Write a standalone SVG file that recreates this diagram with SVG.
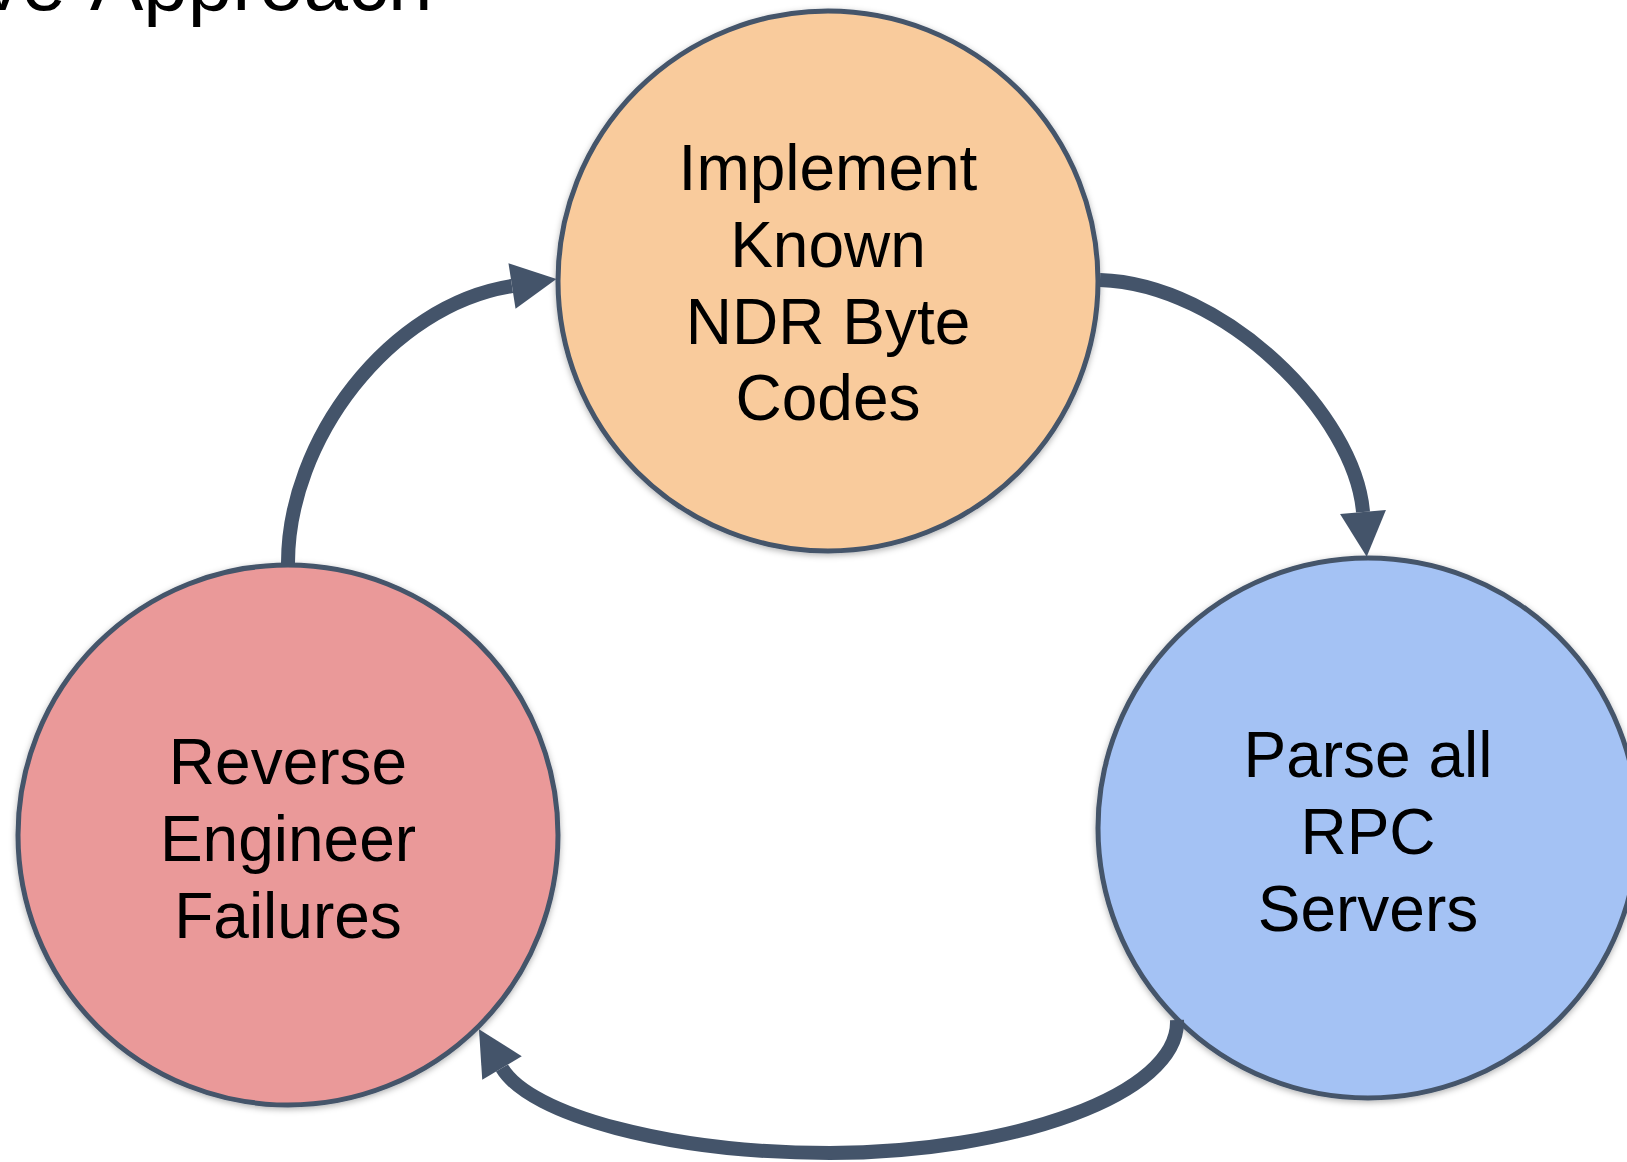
<svg xmlns="http://www.w3.org/2000/svg" width="1627" height="1162" viewBox="0 0 1627 1162">
  <style>
    .node circle { stroke: #44546A; stroke-width: 5; filter: url(#soft); }
    .label { font-family: "Liberation Sans", Arial, sans-serif; font-size: 64px; fill: #000000; text-anchor: middle; }
    .title { font-family: "Liberation Sans", Arial, sans-serif; font-size: 80px; fill: #000000; }
    .link { fill: none; stroke: #44546A; stroke-width: 14; marker-end: url(#head); }
  </style>
  <defs>
    <filter id="soft" x="-10%" y="-10%" width="120%" height="120%">
      <feDropShadow dx="0" dy="2" stdDeviation="3" flood-color="#000000" flood-opacity="0.3"/>
    </filter>
    <marker id="head" markerUnits="userSpaceOnUse" orient="auto" viewBox="-2 -26 52 52" markerWidth="52" markerHeight="52" refX="0" refY="0" overflow="visible">
      <path d="M0,-23 L45,0 L0,23 Z" fill="#44546A"/>
    </marker>
  </defs>

  <rect width="1627" height="1162" fill="#FFFFFF"/>

  <!-- heading, mostly above the top edge -->
  <text class="title" y="10"><tspan x="66" text-anchor="end">ve</tspan><tspan x="90">Approach</tspan></text>

  <g id="node-implement" class="node">
    <circle cx="828" cy="281" r="270" fill="#F9CB9C"/>
    <text class="label"><tspan x="828" y="190">Implement</tspan><tspan x="828" y="267">Known</tspan><tspan x="828" y="344">NDR Byte</tspan><tspan x="828" y="420">Codes</tspan></text>
  </g>

  <g id="node-parse" class="node">
    <circle cx="1368" cy="828" r="270" fill="#A4C2F4"/>
    <text class="label"><tspan x="1368" y="777">Parse all</tspan><tspan x="1368" y="854">RPC</tspan><tspan x="1368" y="931">Servers</tspan></text>
  </g>

  <g id="node-reverse" class="node">
    <circle cx="288" cy="835" r="270" fill="#EA9999"/>
    <text class="label"><tspan x="288" y="784">Reverse</tspan><tspan x="288" y="861">Engineer</tspan><tspan x="288" y="938">Failures</tspan></text>
  </g>

  <g id="connectors">
    <!-- implement -> parse -->
    <path class="link" d="M1100,280 C1225,284 1355,415 1363,512"/>
    <!-- parse -> reverse -->
    <path class="link" d="M1177,1020 C1180,1095 1010,1153 830,1153 C670,1153 530,1115 502,1068"/>
    <!-- reverse -> implement -->
    <path class="link" d="M288,565 C287,440 390,305 512,286"/>
  </g>
</svg>
